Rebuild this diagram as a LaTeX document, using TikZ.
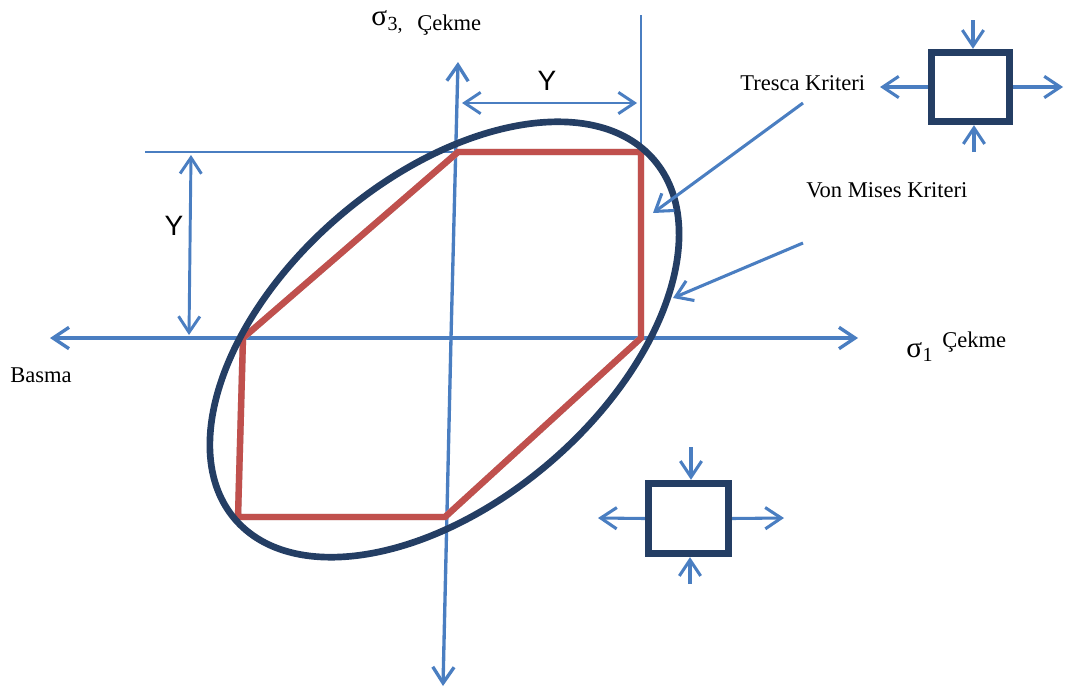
\documentclass[tikz,border=0pt]{standalone}
\usepackage{fontspec}
\setmainfont{Liberation Serif}
\newfontfamily\ysans{Liberation Sans}
\usetikzlibrary{arrows.meta}
\definecolor{axblue}{RGB}{74,126,193}
\definecolor{tred}{RGB}{192,80,77}
\definecolor{navyc}{RGB}{36,62,100}
\begin{document}
\begin{tikzpicture}[x=0.75pt,y=-0.75pt,
  axis/.style={draw=axblue, line width=2.5pt, -{Straight Barb[length=12pt,width=16pt]}},
  dimarr/.style={draw=axblue, line width=2.2pt, {Straight Barb[length=12pt,width=16pt]}-{Straight Barb[length=12pt,width=16pt]}},
  thin/.style={draw=axblue, line width=1.2pt},
  pointer/.style={draw=axblue, line width=2.3pt, -{Straight Barb[length=12pt,width=16pt]}},
  stressbox/.style={draw=navyc, line width=5.5pt, fill=white},
  lbl/.style={inner sep=0pt, anchor=base west, font=\fontsize{16.9}{20}\selectfont},
  ylbl/.style={inner sep=0pt, font=\ysans\fontsize{21}{24}\selectfont},
  sig/.style={inner sep=0pt, anchor=base west, font=\fontsize{22}{24}\selectfont},
  sub/.style={inner sep=0pt, anchor=base west, font=\fontsize{15}{17}\selectfont}]
\useasboundingbox (0,0) rectangle (1065,689);
% reference lines
\coordinate (rv1) at (641,15);
\coordinate (rv2) at (641,152);
\coordinate (rh1) at (145,152);
\coordinate (rh2) at (458,152);
\draw[thin] (rv1) -- (rv2);
\draw[thin] (rh1) -- (rh2);
% axes
\coordinate (hL) at (50,338);
\coordinate (hR) at (858,338);
\coordinate (hM) at (450,338);
\coordinate (vT) at (458,62);
\coordinate (vB) at (443,686);
\coordinate (vM) at (451,338);
\draw[axis] (hM) -- (hL);
\draw[axis] (hM) -- (hR);
\draw[axis] (vM) -- (vT);
\draw[axis] (vM) -- (vB);
% Tresca hexagon (shadow + line)
\coordinate (t1) at (458,152);
\coordinate (t2) at (641,152);
\coordinate (t3) at (641,338);
\coordinate (t4) at (445,517);
\coordinate (t5) at (238,517);
\coordinate (t6) at (243,338);
\draw[black!22, line width=4.8pt, line join=round, shift={(1,5)}] (t1) -- (t2) -- (t3) -- (t4) -- (t5) -- (t6) -- cycle;
\draw[tred, line width=4.8pt, line join=miter] (t1) -- (t2) -- (t3) -- (t4) -- (t5) -- (t6) -- cycle;
% von Mises ellipse
\coordinate (E) at (444.5,339.5);
\draw[navyc, line width=5pt, rotate around={40.6:(E)}] (E) ellipse [x radius=276, y radius=162];
% dimension arrows
\coordinate (yh1) at (462,103);
\coordinate (yh2) at (637,103);
\coordinate (yv1) at (191,155);
\coordinate (yv2) at (189,335);
\draw[dimarr] (yh1) -- (yh2);
\draw[dimarr] (yv1) -- (yv2);
\node[ylbl] (yt) at (547,81) {Y};
\node[ylbl] (yl) at (174,226) {Y};
% labels
\node[sig] (s3) at (371,25) {σ};
\node[sub] (s3i) at ([yshift=-4pt]s3.base east) {3,};
\node[lbl] (s3c) at (417,30) {Çekme};
\node[sig] (s1) at (906,357) {σ};
\node[sub] (s1i) at ([yshift=-3pt]s1.base east) {1};
\node[lbl] (s1c) at (942,347) {Çekme};
\node[lbl] (bas) at (10,382) {Basma};
\node[lbl] (tre) at (740,90) {Tresca Kriteri};
\node[lbl] (vms) at (806,197) {Von Mises Kriteri};
% pointers
\coordinate (tp1) at (803,103);
\coordinate (tp2) at (653,213);
\coordinate (vp1) at (803,243);
\coordinate (vp2) at (673,298);
\draw[pointer] (tp1) -- (tp2);
\draw[pointer] (vp1) -- (vp2);
% stress element top right
\node[stressbox, minimum width=78*0.75pt, minimum height=69*0.75pt, inner sep=0pt] (sq1) at (970.5,87) {};
\coordinate (sq1t) at (973,20);
\coordinate (sq1b) at (974,152);
\coordinate (sq1l) at (880,87);
\coordinate (sq1r) at (1063,87);
\draw[pointer] (sq1t) -- (sq1.north -| sq1t);
\draw[pointer] (sq1b) -- (sq1.south -| sq1b);
\draw[pointer] (sq1.west) -- (sq1l);
\draw[pointer] (sq1.east) -- (sq1r);
% stress element bottom
\node[stressbox, minimum width=80*0.75pt, minimum height=70*0.75pt, inner sep=0pt] (sq2) at (688.5,518.5) {};
\coordinate (sq2t) at (691,447);
\coordinate (sq2b) at (690,584);
\coordinate (sq2l) at (598,518);
\coordinate (sq2r) at (784,518);
\draw[pointer] (sq2t) -- (sq2.north -| sq2t);
\draw[pointer] (sq2b) -- (sq2.south -| sq2b);
\draw[pointer] (sq2.west) -- (sq2l);
\draw[pointer] (sq2.east) -- (sq2r);
\end{tikzpicture}
\end{document}
